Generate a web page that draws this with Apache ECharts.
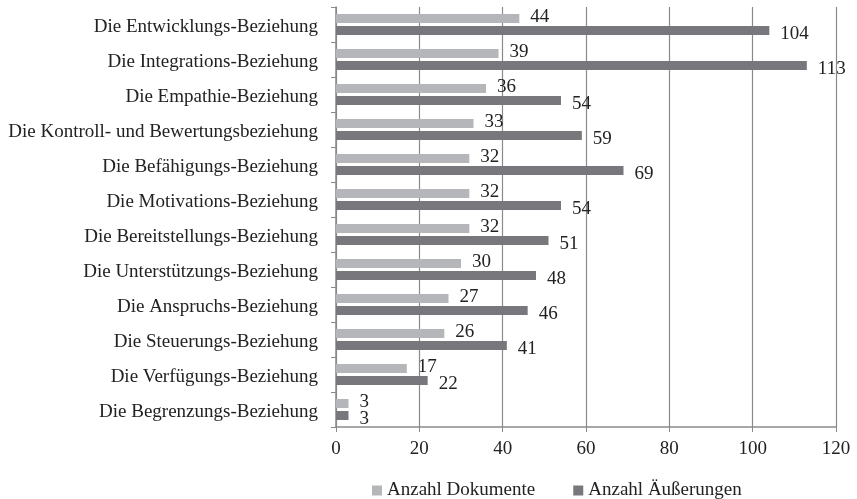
<!DOCTYPE html>
<html>
<head>
<meta charset="utf-8">
<script src="https://cdn.jsdelivr.net/npm/echarts@6/dist/echarts.min.js"></script>
<style>
html,body{margin:0;padding:0;background:#fff;}
#main{width:857px;height:499px;}
</style>
</head>
<body>
<div id="main"></div>
<script>
// Kategorien von unten nach oben (ECharts zeichnet category-Achse von unten)
var categories = [
	'Die Begrenzungs-Beziehung',
	'Die Verfügungs-Beziehung',
	'Die Steuerungs-Beziehung',
	'Die Anspruchs-Beziehung',
	'Die Unterstützungs-Beziehung',
	'Die Bereitstellungs-Beziehung',
	'Die Motivations-Beziehung',
	'Die Befähigungs-Beziehung',
	'Die Kontroll- und Bewertungsbeziehung',
	'Die Empathie-Beziehung',
	'Die Integrations-Beziehung',
	'Die Entwicklungs-Beziehung'
];
var dokumente = [3, 17, 26, 27, 30, 32, 32, 32, 33, 36, 39, 44];
var aeusserungen = [3, 22, 41, 46, 48, 51, 54, 69, 59, 54, 113, 104];
var xTicks = [0, 20, 40, 60, 80, 100, 120];

var myChart = echarts.init(document.getElementById('main'));
var fontFam = '"Liberation Serif", "DejaVu Serif", serif';
var option = {
	animation : false,
	textStyle : { fontFamily : fontFam },
	grid : {
		left : 336,
		right : 21,
		top : 7,
		bottom : 72,
		containLabel : false
	},
	legend : {
		top : 476,
		left : 367,
		itemWidth : 10,
		itemHeight : 10,
		itemGap : 38,
		icon : 'rect',
		textStyle : { fontFamily : fontFam, fontSize : 19, color : '#222', padding : [3, 0, 0, 0] },
		data : ['Anzahl Dokumente', 'Anzahl Äußerungen']
	},
	xAxis : {
		type : 'value',
		min : xTicks[0],
		max : xTicks[xTicks.length - 1],
		interval : 20,
		axisLine : { show : true, lineStyle : { color : '#8a8a8a', width : 1.5 } },
		axisTick : { show : true, length : 5, lineStyle : { color : '#8a8a8a' } },
		axisLabel : { color : '#222', fontSize : 19, fontFamily : fontFam, margin : 13 },
		splitLine : { show : true, lineStyle : { color : '#8a8a8a', width : 1.2 } }
	},
	yAxis : {
		type : 'category',
		data : categories,
		axisLine : { show : true, lineStyle : { color : '#8a8a8a', width : 1.5 } },
		axisTick : { show : true, length : 5, lineStyle : { color : '#8a8a8a' } },
		axisLabel : {
			margin : 18,
			formatter : function(value){ return '{c|' + value + '}'; },
			rich : {
				c : { color : '#222', fontSize : 19, fontFamily : fontFam, padding : [6, 0, 0, 0] }
			}
		}
	},
	series : [ {
		name : 'Anzahl Dokumente',
		type : 'bar',
		data : dokumente,
		barWidth : 9,
		barGap : '33%',
		itemStyle : { color : '#b4b6b9' },
		label : {
			show : true,
			position : 'right',
			distance : 11,
			offset : [0, -1],
			color : '#222',
			fontSize : 19,
			fontFamily : fontFam
		}
	}, {
		name : 'Anzahl Äußerungen',
		type : 'bar',
		data : aeusserungen,
		barWidth : 9,
		barGap : '33%',
		itemStyle : { color : '#78787c' },
		label : {
			show : true,
			position : 'right',
			distance : 11,
			offset : [0, 4],
			color : '#222',
			fontSize : 19,
			fontFamily : fontFam
		}
	} ]
};
myChart.setOption(option, true);
</script>
</body>
</html>
